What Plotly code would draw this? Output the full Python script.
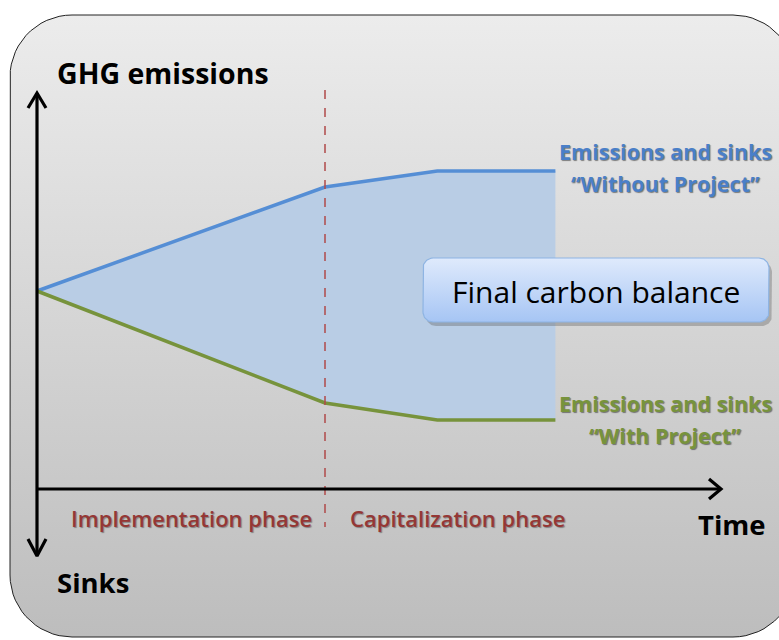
import numpy as np
import plotly.graph_objects as go

W, H = 779, 640

# ---- data (conceptual units) ----
time = [0.0, 1.0, 1.39, 1.80]
without_project = [0.0, 1.04, 1.20, 1.20]
with_project = [0.0, -1.12, -1.29, -1.29]
phase_boundary = 1.0
phase_labels = ["Implementation phase", "Capitalization phase"]
series_label_lines = [["Emissions and sinks", "“Without Project”"],
                      ["Emissions and sinks", "“With Project”"]]
axis_labels = ["GHG emissions", "Sinks", "Time"]
balance_label = "Final carbon balance"

# ---- layout helpers: convert canvas pixel to data units ----
X0, XU = 37, 288.0
Y0, YU = 291, 100.0
def dx(p):
    return (p - X0) / XU
def dy(p):
    return (Y0 - p) / YU

def rounded_rect(x1, y1, x2, y2, r, n=16):
    xs, ys = [], []
    corners = [(x2 - r, y1 + r, -90, 0), (x2 - r, y2 - r, 0, 90),
               (x1 + r, y2 - r, 90, 180), (x1 + r, y1 + r, 180, 270)]
    for cx, cy, a0, a1 in corners:
        t = np.radians(np.linspace(a0, a1, n))
        xs += list(cx + r * np.cos(t))
        ys += list(cy + r * np.sin(t))
    xs.append(xs[0]); ys.append(ys[0])
    return [dx(v) for v in xs], [dy(v) for v in ys]

fig = go.Figure()

# background panel
bx, by = rounded_rect(10, 15, 795, 637, 62)
fig.add_trace(go.Scatter(x=bx, y=by, mode="lines", fill="toself",
                         line=dict(color="#222222", width=1),
                         fillgradient=dict(type="vertical",
                                           colorscale=[[0, "#bdbdbd"], [1, "#ececec"]]),
                         hoverinfo="skip", showlegend=False))

# area between scenarios
fig.add_trace(go.Scatter(x=time, y=with_project, mode="lines", line=dict(width=0),
                         hoverinfo="skip", showlegend=False))
fig.add_trace(go.Scatter(x=time, y=without_project, mode="lines", line=dict(width=0),
                         fill="tonexty", fillcolor="#b9cde5",
                         hoverinfo="skip", showlegend=False))

# scenario lines
fig.add_trace(go.Scatter(x=time, y=without_project, mode="lines",
                         line=dict(color="#558ed5", width=3.5),
                         hoverinfo="skip", showlegend=False))
fig.add_trace(go.Scatter(x=time, y=with_project, mode="lines",
                         line=dict(color="#77933c", width=3.5),
                         hoverinfo="skip", showlegend=False))

# phase boundary
fig.add_trace(go.Scatter(x=[phase_boundary, phase_boundary], y=[dy(90), dy(527)], mode="lines",
                         line=dict(color="#b04a4a", width=1.5, dash="dash"),
                         hoverinfo="skip", showlegend=False))

# axes with chevron heads
ax_lines = [
    ([37, 37], [93, 555]),
    ([37, 720], [489, 489]),
    ([28, 37, 46], [108, 93, 108]),
    ([28, 37, 46], [539, 556, 539]),
    ([709, 721, 709], [479, 489, 499]),
]
for xs, ys in ax_lines:
    fig.add_trace(go.Scatter(x=[dx(v) for v in xs], y=[dy(v) for v in ys], mode="lines",
                             line=dict(color="black", width=3.2),
                             hoverinfo="skip", showlegend=False))

# final balance box with shadow
sx, sy = rounded_rect(426, 262, 772, 326, 10)
fig.add_trace(go.Scatter(x=sx, y=sy, mode="lines", fill="toself", fillcolor="rgba(90,90,90,0.35)",
                         line=dict(width=0), hoverinfo="skip", showlegend=False))
fx, fy = rounded_rect(423, 258, 769, 322, 10)
fig.add_trace(go.Scatter(x=fx, y=fy, mode="lines", fill="toself",
                         line=dict(color="#8eb4e3", width=1.2),
                         fillgradient=dict(type="vertical",
                                           colorscale=[[0, "#a6c5f4"], [1, "#dfeafc"]]),
                         hoverinfo="skip", showlegend=False))

FONT = "Open Sans"
ann = []
def add_text(text, px, py, size, color="black", weight=400, xanchor="center", shadow=None):
    f = dict(family=FONT, size=size, color=color, weight=weight)
    if shadow:
        f["shadow"] = shadow
    ann.append(dict(x=dx(px), y=dy(py), xref="x", yref="y", text=text, showarrow=False,
                    xanchor=xanchor, yanchor="middle", font=f))

add_text(axis_labels[0], 55, 73, 28.5, weight=700, xanchor="left")
add_text(axis_labels[1], 55, 582, 27.5, weight=700, xanchor="left")
add_text(axis_labels[2], 732, 524, 27.5, weight=700)
add_text(phase_labels[0], 191, 518, 22, color="#953735", weight=600,
         shadow="1px 1px 1px rgba(0,0,0,0.35)")
add_text(phase_labels[1], 457, 518, 22, color="#953735", weight=600,
         shadow="1px 1px 1px rgba(0,0,0,0.35)")
sh = "1px 1px 1px rgba(0,0,0,0.45)"
add_text(series_label_lines[0][0], 665, 151, 21.5, color="#4a7fc8", weight=700, shadow=sh)
add_text(series_label_lines[0][1], 665, 183, 21.5, color="#4a7fc8", weight=700, shadow=sh)
add_text(series_label_lines[1][0], 665, 403, 21.5, color="#77933c", weight=700, shadow=sh)
add_text(series_label_lines[1][1], 665, 435, 21.5, color="#77933c", weight=700, shadow=sh)
add_text(balance_label, 596, 291, 30)

fig.update_layout(
    width=W, height=H,
    margin=dict(l=0, r=0, t=0, b=0),
    paper_bgcolor="white", plot_bgcolor="white",
    xaxis=dict(range=[dx(0), dx(W)], visible=False, fixedrange=True),
    yaxis=dict(range=[dy(H), dy(0)], visible=False, fixedrange=True),
    annotations=ann,
    showlegend=False,
)

fig.write_html("out.html", config={"displayModeBar": False},
               post_script="document.body.style.margin='0';document.body.style.overflow='hidden';")
